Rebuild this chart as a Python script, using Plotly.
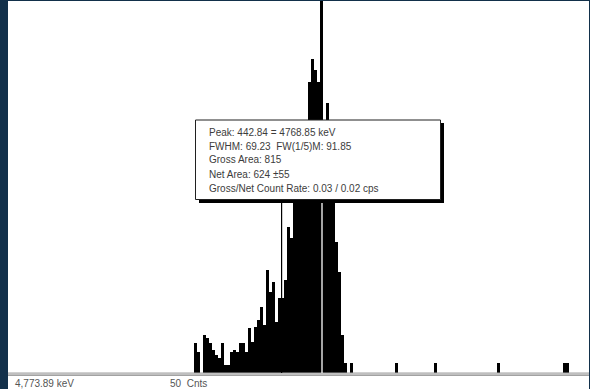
import plotly.graph_objects as go

# Spectrum channel counts (display units, full scale = 50 Cnts)
channels = list(range(62, 115)) + [129, 142, 163, 185, 186]
counts = [4.03, 2.82, 0.0, 5.11, 4.70, 4.03, 3.09, 2.42, 2.02, 4.03,
          1.08, 1.08, 2.82, 3.09, 2.82, 4.03, 4.03, 2.82, 6.05, 4.17,
          6.18, 7.12, 8.87, 6.45, 13.84, 10.89, 12.23, 6.85, 10.08, 10.08,
          12.5, 19.62, 18.15, 24.6, 26.6, 28.6, 31.3, 32.9, 39.1, 42.2,
          40.7, 39.1, 58.0, 31.3, 36.3, 30.0, 23.3, 17.6, 13.6, 5.1,
          1.34, 0.0, 1.34,
          1.34, 1.34, 1.34, 1.34, 1.34]
x_max = 193.67
y_max = 50
roi_marker_channel = 91.2
roi_marker_top = 27.0
cursor_channel = 104.67

info_lines = ["Peak: 442.84 = 4768.85 keV",
              "FWHM: 69.23  FW(1/5)M: 91.85",
              "Gross Area: 815",
              "Net Area: 624 ±55",
              "Gross/Net Count Rate: 0.03 / 0.02 cps"]
bottom_left_label = "4,773.89 keV"
bottom_scale_label = "50  Cnts"

W, H = 590, 389
ML, MR, MT, MB = 8, 1, 1, 16
PW = W - ML - MR
PH = H - MT - MB

def px(xp):
    return (xp - ML) / PW

def py(yp):
    return (H - MB - yp) / PH

fig = go.Figure()
fig.add_trace(go.Bar(x=[c + 0.5 for c in channels], y=counts, width=1,
                     marker=dict(color="black", line=dict(width=0)),
                     hoverinfo="skip"))

shapes = []
# bottom white strip
shapes.append(dict(type="rect", xref="paper", yref="paper", x0=0, x1=1,
                   y0=py(H), y1=py(373), fillcolor="white", line_width=0, layer="above"))
# axis band
shapes.append(dict(type="rect", xref="paper", yref="paper", x0=0, x1=1,
                   y0=py(376), y1=py(372.6), fillcolor="#a2a2a2", line_width=0, layer="above"))
shapes.append(dict(type="rect", xref="paper", yref="paper", x0=0, x1=1,
                   y0=py(374.6), y1=py(373.6), fillcolor="#dcdcdc", line_width=0, layer="above"))
# ROI marker line
shapes.append(dict(type="line", xref="x", yref="y", x0=roi_marker_channel, x1=roi_marker_channel,
                   y0=0, y1=roi_marker_top, line=dict(color="black", width=1.2), layer="above"))
# cursor (visible only inside the black peak, below the info box)
shapes.append(dict(type="line", xref="x", yref="paper", x0=cursor_channel, x1=cursor_channel,
                   y0=0, y1=py(199), line=dict(color="white", width=1.3), layer="above"))
# info box shadow + box
shapes.append(dict(type="rect", xref="paper", yref="paper", x0=px(199), x1=px(444),
                   y0=py(203), y1=py(123), fillcolor="black", line_width=0, layer="above"))
shapes.append(dict(type="rect", xref="paper", yref="paper", x0=px(195.5), x1=px(440.5),
                   y0=py(199.5), y1=py(120), fillcolor="white",
                   line=dict(color="#202020", width=1), layer="above"))

annotations = []
for i, t in enumerate(info_lines):
    annotations.append(dict(text=t, xref="paper", yref="paper", x=px(207), y=py(132 + 14 * i),
                            xanchor="left", yanchor="middle", showarrow=False,
                            font=dict(family="Liberation Sans, Arial", size=10, color="#3c3c3c")))
annotations.append(dict(text=bottom_left_label, xref="paper", yref="paper", x=px(13), y=py(383),
                        xanchor="left", yanchor="middle", showarrow=False,
                        font=dict(family="Liberation Sans, Arial", size=10, color="#555555")))
annotations.append(dict(text=bottom_scale_label, xref="paper", yref="paper", x=px(168), y=py(383),
                        xanchor="left", yanchor="middle", showarrow=False,
                        font=dict(family="Liberation Sans, Arial", size=10, color="#555555")))

fig.update_layout(
    width=W, height=H,
    margin=dict(l=ML, r=MR, t=MT, b=MB, pad=0),
    paper_bgcolor="#12304a", plot_bgcolor="white",
    showlegend=False, bargap=0,
    xaxis=dict(range=[0, x_max], visible=False, fixedrange=True),
    yaxis=dict(range=[0, y_max], visible=False, fixedrange=True),
    shapes=shapes, annotations=annotations,
)
fig.write_html("out.html", config={"displayModeBar": False})
